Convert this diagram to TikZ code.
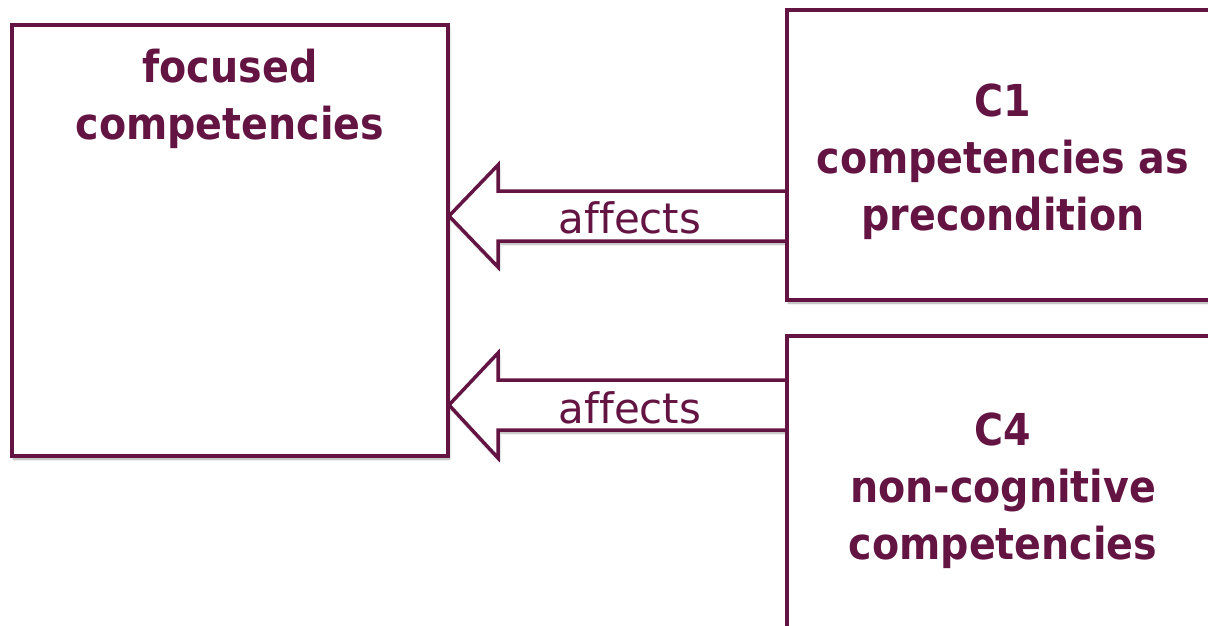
\documentclass[tikz,border=0pt]{standalone}
\usepackage{fontspec}
\setmainfont{DejaVu Sans Condensed}
\newfontfamily\widefont{DejaVu Sans}
\usetikzlibrary{shadows.blur}
\definecolor{maroon}{RGB}{100,20,66}
\tikzset{
  boxstyle/.style={draw=maroon, line width=3.5pt, fill=white, rectangle, inner sep=0pt,
    blur shadow={shadow xshift=1.5pt, shadow yshift=-3pt, shadow blur steps=6, shadow opacity=35}},
  arrowstyle/.style={draw=maroon, line width=3.5pt, fill=white, line join=miter,
    blur shadow={shadow xshift=1.5pt, shadow yshift=-3pt, shadow blur steps=6, shadow opacity=35}},
  titletext/.style={text=maroon, font=\fontsize{44}{57}\selectfont\bfseries, align=center, inner sep=0pt},
  labeltext/.style={text=maroon, font=\widefont\fontsize{42}{50}\selectfont, inner sep=0pt}
}
\begin{document}
\begin{tikzpicture}[x=1pt,y=-1pt]
\useasboundingbox (0,0) rectangle (1208,625);
% arrows (behind boxes)
\coordinate (t1) at (449,216);
\coordinate (e1) at (787,216);
\coordinate (t2) at (449,405);
\coordinate (e2) at (787,405);
\draw[arrowstyle] (t1) -- ++(49,-51) -- ++(0,26) -- (e1 |- 0,191) -- (e1 |- 0,241) -- (498,241) -- ++(0,26) -- cycle;
\draw[arrowstyle] (t2) -- ++(49,-52) -- ++(0,27) -- (e2 |- 0,380) -- (e2 |- 0,430) -- (498,430) -- ++(0,28) -- cycle;
\node[labeltext, anchor=base] (a1) at (630,233) {af\kern0pt fects};
\node[labeltext, anchor=base] (a2) at (630,423) {af\kern0pt fects};
% boxes
\node[boxstyle, minimum width=436pt, minimum height=431pt] (focus) at (230,240.5) {};
\node[titletext] (ftext) at (230,99) {focused\\competencies};
\node[boxstyle, minimum width=432pt, minimum height=290pt] (c1) at (1003,155) {};
\node[titletext] (c1text) at (1003,162) {C1\\competencies as\\precondition};
\node[boxstyle, minimum width=432pt, minimum height=310pt, titletext] (c4) at (1003,491) {C4\\non-cognitive\\competencies};
\end{tikzpicture}
\end{document}
